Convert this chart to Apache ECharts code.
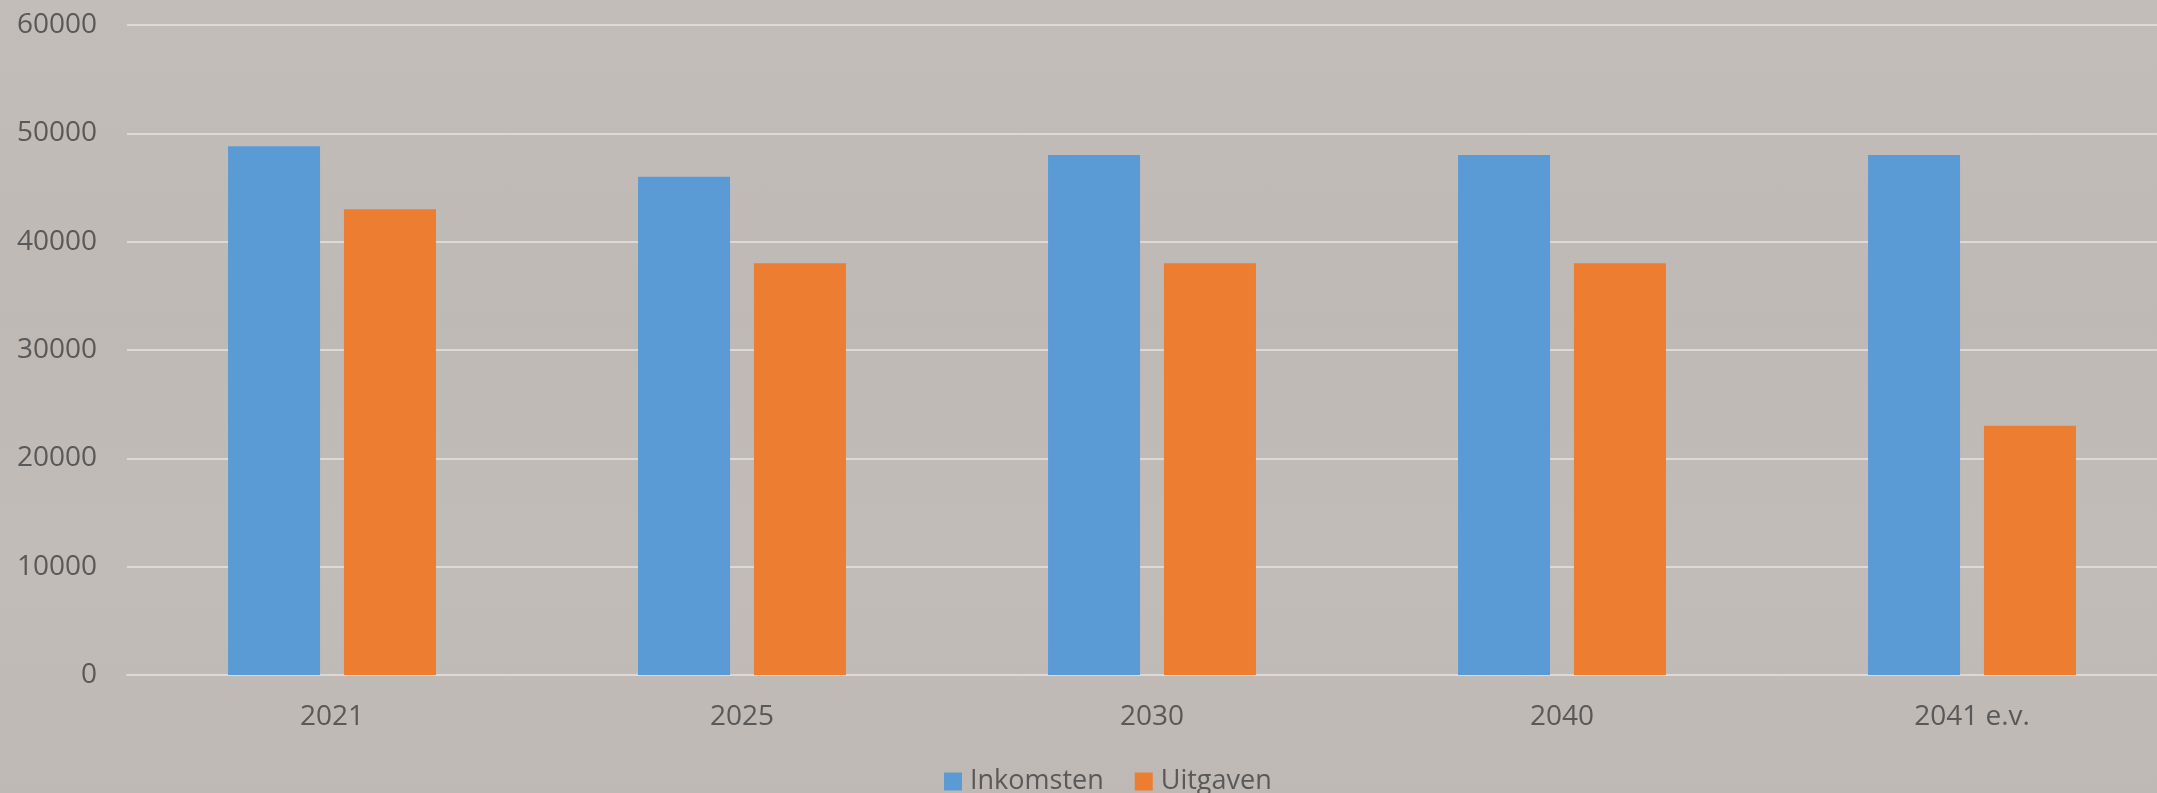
<!DOCTYPE html>
<html>
<head>
<meta charset="utf-8">
<script src="https://cdn.jsdelivr.net/npm/echarts@6/dist/echarts.min.js"></script>
<style>
html,body{margin:0;padding:0;}
#chart{width:2157px;height:793px;background:linear-gradient(180deg,#c3bdb9 0%,#bfb9b5 40%,#c2bcb8 70%,#bfb9b5 100%);}
</style>
</head>
<body>
<div id="chart"></div>
<script>
const categories = ['2021', '2025', '2030', '2040', '2041 e.v.'];
const inkomsten = [48800, 46000, 48000, 48000, 48000];
const uitgaven = [43000, 38000, 38000, 38000, 23000];
const yTicks = { min: 0, max: 60000, interval: 10000 };

const chart = echarts.init(document.getElementById('chart'), null, { renderer: 'canvas' });
const textColor = '#595959';
const font = '"Open Sans", sans-serif';
chart.setOption({
  backgroundColor: 'transparent',
  animation: false,
  grid: { left: 127, top: 25, height: 650, width: 2050, containLabel: false, outerBoundsMode: 'none' },
  legend: {
    left: 939, top: 763,
    itemWidth: 18, itemHeight: 18, itemGap: 31,
    icon: 'rect',
    textStyle: { color: textColor, fontSize: 27, fontFamily: font, padding: [0, 0, 0, 3] },
    data: ['Inkomsten', 'Uitgaven']
  },
  xAxis: {
    type: 'category',
    data: categories,
    axisLine: { show: true, lineStyle: { color: '#dcd9d6', width: 2 } },
    axisTick: { show: false },
    axisLabel: { color: textColor, fontSize: 28, fontFamily: font, margin: 28 }
  },
  yAxis: {
    type: 'value',
    min: yTicks.min, max: yTicks.max, interval: yTicks.interval,
    axisLine: { show: false },
    axisTick: { show: false },
    splitLine: { lineStyle: { color: '#dcd9d6', width: 2 } },
    axisLabel: { color: textColor, fontSize: 28, fontFamily: font, margin: 30, formatter: v => String(v) }
  },
  series: [
    { name: 'Inkomsten', type: 'bar', data: inkomsten, barWidth: 92, barGap: '26%',
      itemStyle: { color: '#5b9bd5' } },
    { name: 'Uitgaven', type: 'bar', data: uitgaven, barWidth: 92, barGap: '26%',
      itemStyle: { color: '#ed7d31' } }
  ]
});
</script>
</body>
</html>
